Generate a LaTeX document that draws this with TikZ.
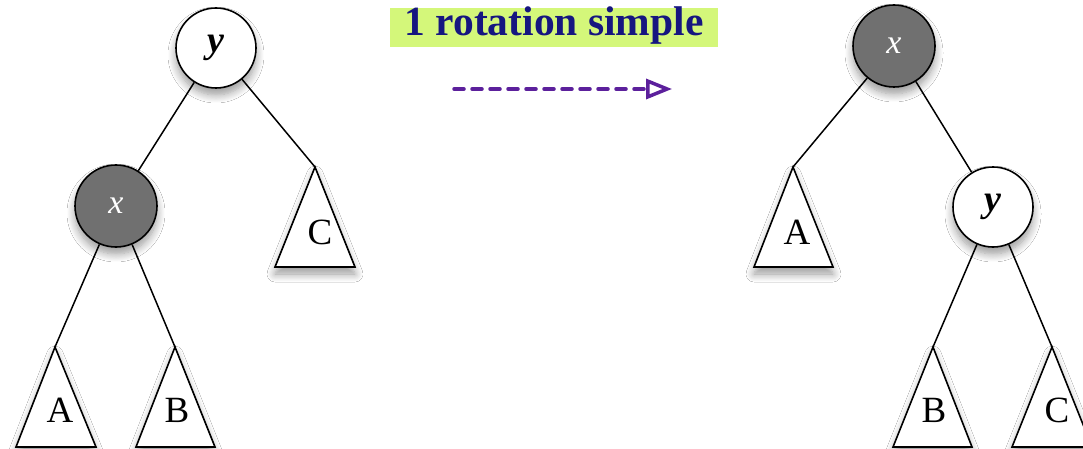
\documentclass[tikz,border=0pt]{standalone}
\usepackage{fontspec}
\setmainfont{Liberation Serif}
\usetikzlibrary{arrows.meta,shadows.blur}
\definecolor{titlebg}{RGB}{212,247,122}
\definecolor{titlefg}{RGB}{22,22,128}
\definecolor{arrowc}{RGB}{92,32,156}
\definecolor{nodegrey}{RGB}{112,112,112}
\tikzset{
  sh/.style={blur shadow={shadow xshift=0pt,shadow yshift=-7pt,shadow blur steps=10,shadow blur radius=8pt,shadow opacity=40}},
  whitenode/.style={circle,draw,line width=1.6pt,fill=white,minimum size=80pt,inner sep=0pt,sh,font=\fontsize{38}{38}\selectfont\bfseries\itshape},
  greynode/.style={circle,draw,line width=1.6pt,fill=nodegrey,text=white,minimum size=82pt,inner sep=0pt,sh,font=\fontsize{34}{34}\selectfont\itshape},
  tri/.style={draw,line width=1.6pt,fill=white,line join=miter,sh},
  edge/.style={line width=1.5pt},
  lbl/.style={font=\fontsize{37}{37}\selectfont,inner sep=0pt}
}
\begin{document}
\begin{tikzpicture}[x=1pt,y=-1pt]
\clip (0,0) rectangle (1083,449);
\fill[white] (0,0) rectangle (1083,449);
% title
\fill[titlebg] (390,8) rectangle (718,47);
\node[text=titlefg,font=\fontsize{41.5}{41.5}\selectfont\bfseries,inner sep=0pt] (title) at (554,26) {1 rotation simple};
\coordinate (as) at (454,89);
\coordinate (ae) at (672,89);
\draw[arrowc,line width=3.5pt,dash pattern=on 10pt off 8pt,line cap=round,-{Triangle[open,length=26pt,width=20pt,line width=3.5pt]}] (as) -- (ae);

% ---- left tree ----
\coordinate (LAa) at (55,347);
\coordinate (LBa) at (175,347);
\coordinate (LCa) at (315,167);
\draw[tri] (LAa) -- (96,447) -- (16,447) -- cycle;
\draw[tri] (LBa) -- (215,447) -- (136,447) -- cycle;
\draw[tri] (LCa) -- (355,267) -- (275,267) -- cycle;
\node[lbl] (LA) at (60,410) {A};
\node[lbl] (LB) at (177,410) {B};
\node[lbl] (LC) at (320,232) {C};
\node[greynode] (Lx) at (116,206) {x};
\node[whitenode] (Ly) at (216,48) {y};
\draw[edge] (Ly) -- (Lx);
\draw[edge] (Ly) -- (LCa);
\draw[edge] (Lx) -- (LAa);
\draw[edge] (Lx) -- (LBa);

% ---- right tree ----
\coordinate (RAa) at (793,167);
\coordinate (RBa) at (933,347);
\coordinate (RCa) at (1052,347);
\draw[tri] (RAa) -- (833,267) -- (754,267) -- cycle;
\draw[tri] (RBa) -- (972,447) -- (893,447) -- cycle;
\draw[tri] (RCa) -- (1092,447) -- (1012,447) -- cycle;
\node[lbl] (RA) at (797,232) {A};
\node[lbl] (RB) at (934,410) {B};
\node[lbl] (RC) at (1057,410) {C};
\node[whitenode] (Ry) at (993,207) {y};
\node[greynode] (Rx) at (894,46) {x};
\draw[edge] (Rx) -- (RAa);
\draw[edge] (Rx) -- (Ry);
\draw[edge] (Ry) -- (RBa);
\draw[edge] (Ry) -- (RCa);
\end{tikzpicture}
\end{document}
